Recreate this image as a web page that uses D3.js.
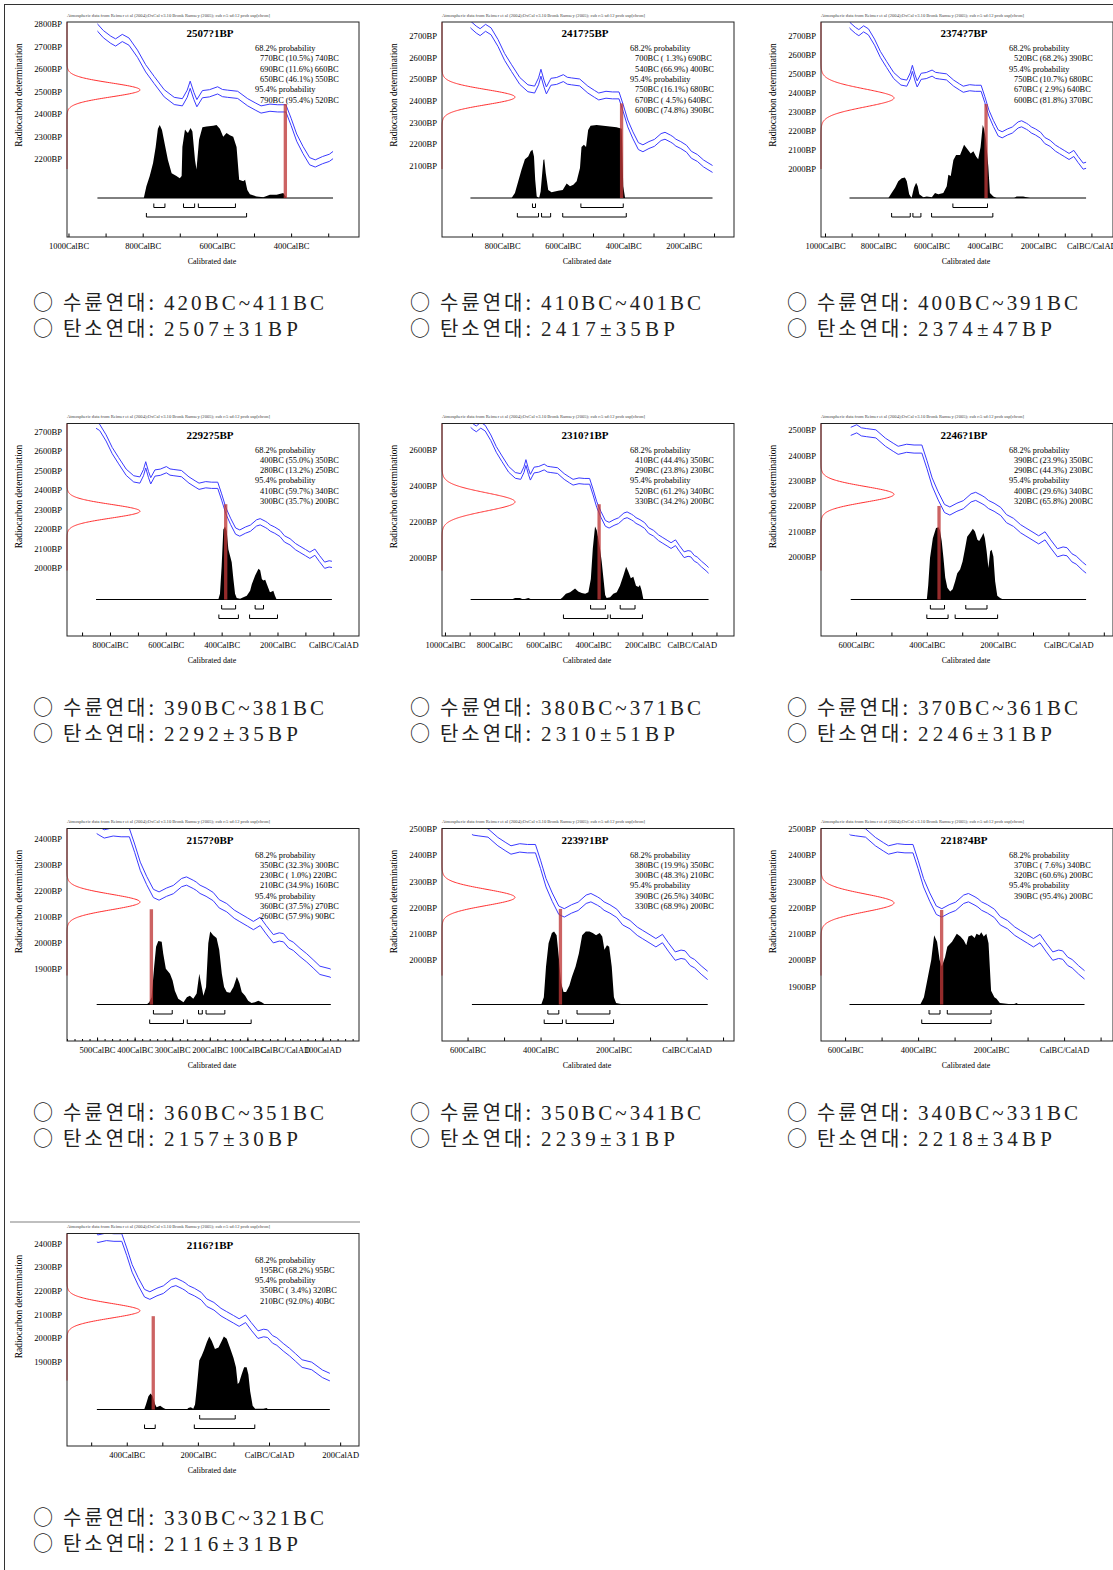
<!DOCTYPE html>
<html>
<head>
<meta charset="utf-8">
<script src="https://cdn.jsdelivr.net/npm/d3@7"></script>
<style>
  body { margin: 0; background: #fff; }
  svg text { font-family: "Liberation Serif", "Times New Roman", serif; }
</style>
</head>
<body>
<svg id="chart" width="1113" height="1570"></svg>
<script>
// calibration curve (IntCal04 centre line): [year (BC < 0), BP]
const calCurve = [
  [-925, 2790], [-906, 2755], [-886, 2730], [-873, 2718], [-855, 2738], [-837, 2722],
  [-814, 2668], [-792, 2603], [-769, 2551], [-742, 2492], [-715, 2458], [-693, 2452],
  [-680, 2490], [-672, 2530], [-662, 2480], [-654, 2448], [-639, 2488], [-620, 2492],
  [-598, 2505], [-585, 2493], [-571, 2490], [-544, 2485], [-517, 2452], [-495, 2432],
  [-481, 2420], [-457, 2428], [-436, 2425], [-414, 2425], [-400, 2365], [-385, 2295],
  [-368, 2240], [-350, 2190], [-335, 2180], [-315, 2195], [-297, 2205], [-275, 2232],
  [-262, 2238], [-244, 2225], [-236, 2218], [-226, 2206], [-210, 2195], [-191, 2178],
  [-175, 2150], [-155, 2135], [-135, 2110], [-120, 2097], [-100, 2080], [-84, 2066],
  [-66, 2082], [-50, 2050], [-31, 2015], [-15, 2022], [-4, 2019], [10, 1995],
  [22, 1986], [40, 1962], [58, 1941], [75, 1918], [93, 1893], [120, 1883],
  [150, 1850], [175, 1833]
];
const curveSigma = 16;

// measurements
const c14Mean = [2507, 2417, 2374, 2292, 2310, 2246, 2157, 2239, 2218, 2116];
const c14Sd = [31, 35, 47, 35, 51, 31, 30, 31, 34, 31];
const dendroFrom = [420, 410, 400, 390, 380, 370, 360, 350, 340, 330];
const dendroTo = [411, 401, 391, 381, 371, 361, 351, 341, 331, 321];
const barTopBP = [2444, 2388, 2342, 2328, 2297, 2200, 2129, 2195, 2191, 2093];

// calibrated ranges [fromBC, toBC, percent]
const prob68 = [
  [[770, 740, 10.5], [690, 660, 11.6], [650, 550, 46.1]],
  [[700, 690, 1.3], [540, 400, 66.9]],
  [[520, 390, 68.2]],
  [[400, 350, 55.0], [280, 250, 13.2]],
  [[410, 350, 44.4], [290, 230, 23.8]],
  [[390, 350, 23.9], [290, 230, 44.3]],
  [[350, 300, 32.3], [230, 220, 1.0], [210, 160, 34.9]],
  [[380, 350, 19.9], [300, 210, 48.3]],
  [[370, 340, 7.6], [320, 200, 60.6]],
  [[195, 95, 68.2]]
];
const prob95 = [
  [[790, 520, 95.4]],
  [[750, 680, 16.1], [670, 640, 4.5], [600, 390, 74.8]],
  [[750, 680, 10.7], [670, 640, 2.9], [600, 370, 81.8]],
  [[410, 340, 59.7], [300, 200, 35.7]],
  [[520, 340, 61.2], [330, 200, 34.2]],
  [[400, 340, 29.6], [320, 200, 65.8]],
  [[360, 270, 37.5], [260, 90, 57.9]],
  [[390, 340, 26.5], [330, 200, 68.9]],
  [[390, 200, 95.4]],
  [[350, 320, 3.4], [210, 40, 92.0]]
];

// calibrated probability distributions [year, relative density]
const dist1 = [[-797,0],[-790,.16],[-781,.30],[-772,.48],[-765,.70],[-759,.95],[-754,1],[-748,.93],[-741,.75],[-732,.52],[-722,.34],[-709,.30],[-700,.27],[-695,.30],[-693,.70],[-686,.94],[-682,.91],[-678,.89],[-671,.96],[-666,.91],[-659,.52],[-655,.39],[-648,.80],[-639,.97],[-628,.98],[-610,.99],[-601,1],[-592,.95],[-583,.84],[-574,.89],[-565,.86],[-556,.84],[-547,.70],[-540,.25],[-529,.23],[-524,.25],[-518,.11],[-511,.05],[-493,.02],[-475,.01],[-457,.045],[-439,.045],[-421,.07],[-412,0]];
const dist2 = [[-769,0],[-758,.07],[-747,.23],[-736,.39],[-725,.53],[-714,.57],[-706,.64],[-700,.66],[-695,.57],[-691,.25],[-686,.02],[-678,0],[-673,.09],[-664,.52],[-661,.53],[-656,.34],[-648,.11],[-637,.08],[-626,.09],[-615,.10],[-600,.11],[-587,.20],[-576,.16],[-565,.18],[-554,.23],[-543,.41],[-538,.70],[-530,.73],[-523,.70],[-516,.93],[-508,.99],[-488,1],[-466,.99],[-444,.98],[-422,.97],[-405,.95],[-400,.16],[-394,0]];
const dist3 = [[-762,0],[-750,.07],[-737,.14],[-725,.23],[-712,.27],[-700,.28],[-693,.23],[-684,.05],[-675,0],[-666,.14],[-658,.21],[-652,.16],[-646,.05],[-631,.01],[-618,.02],[-599,.01],[-587,.07],[-575,.05],[-556,.07],[-543,.16],[-537,.32],[-528,.30],[-518,.52],[-508,.59],[-493,.59],[-478,.73],[-468,.68],[-453,.61],[-443,.64],[-433,.57],[-425,.53],[-416,.70],[-408,1],[-403,.95],[-396,.80],[-387,.43],[-381,.07],[-368,.02],[-356,0],[-290,0],[-281,.02],[-256,.02],[-230,0]];
const dist4 = [[-412,0],[-406,.08],[-400,.46],[-394,.96],[-388,1],[-382,.94],[-376,.69],[-370,.60],[-364,.51],[-358,.28],[-352,.08],[-346,.02],[-334,.01],[-322,.03],[-310,.05],[-298,.12],[-292,.21],[-280,.33],[-268,.42],[-262,.40],[-256,.28],[-251,.26],[-244,.27],[-238,.21],[-227,.10],[-220,.11],[-215,.12],[-209,.05],[-203,0]];
const dist5 = [[-730,0],[-716,.02],[-696,.02],[-683,0],[-662,.02],[-649,0],[-534,0],[-523,.03],[-510,.08],[-493,.10],[-473,.15],[-460,.11],[-446,.09],[-432,.08],[-419,.10],[-409,.28],[-401,.70],[-392,1],[-385,.95],[-379,.84],[-372,.70],[-365,.52],[-358,.29],[-351,.06],[-345,.02],[-331,.03],[-318,.08],[-304,.10],[-291,.19],[-277,.33],[-266,.45],[-257,.38],[-247,.29],[-237,.31],[-226,.19],[-216,.17],[-210,.20],[-203,.12],[-196,0]];
const dist6 = [[-400,0],[-396,.20],[-391,.57],[-383,.84],[-374,.98],[-367,.99],[-363,.95],[-358,.80],[-353,.57],[-348,.30],[-342,.16],[-334,.11],[-327,.14],[-320,.25],[-314,.36],[-306,.41],[-299,.52],[-292,.70],[-286,.86],[-278,.91],[-270,.97],[-264,.93],[-257,.82],[-252,.80],[-245,.86],[-240,.91],[-236,.84],[-231,.66],[-226,.43],[-221,.66],[-217,.68],[-212,.59],[-207,.25],[-201,.05],[-193,.02],[-184,0]];
const dist7 = [[-368,0],[-361,.03],[-355,.10],[-348,.52],[-343,.79],[-337,.87],[-328,.86],[-324,.70],[-317,.49],[-306,.42],[-299,.33],[-293,.19],[-284,.08],[-270,.03],[-261,.10],[-253,.12],[-244,.08],[-235,.15],[-228,.42],[-223,.28],[-217,.12],[-210,.24],[-204,.84],[-199,1],[-191,.95],[-182,.91],[-175,.75],[-168,.42],[-162,.24],[-155,.17],[-146,.16],[-137,.24],[-128,.38],[-121,.29],[-115,.17],[-106,.12],[-98,.05],[-89,.02],[-80,.03],[-71,.05],[-62,.03],[-53,0]];
const dist8 = [[-398,0],[-391,.10],[-385,.52],[-378,.84],[-369,.98],[-363,1],[-356,.95],[-350,.65],[-344,.30],[-337,.17],[-330,.17],[-321,.26],[-314,.38],[-304,.52],[-295,.70],[-286,.95],[-276,1],[-266,1],[-257,.98],[-248,.95],[-238,.98],[-231,.93],[-225,.75],[-218,.81],[-212,.79],[-205,.52],[-199,.10],[-193,.02],[-173,0]];
const dist9 = [[-394,0],[-384,.10],[-373,.38],[-364,.61],[-356,.95],[-348,.86],[-341,.61],[-335,.52],[-326,.65],[-320,.79],[-307,.86],[-294,.97],[-284,.93],[-275,.88],[-268,.81],[-262,.93],[-253,.95],[-245,.91],[-240,.97],[-232,.95],[-227,.99],[-220,.93],[-213,.97],[-207,.84],[-200,.19],[-191,.10],[-185,.08],[-176,.02],[-140,0],[-130,.02],[-125,0]];
const dist10 = [[-351,0],[-346,.07],[-339,.18],[-333,.22],[-327,.18],[-320,.07],[-316,.03],[-306,.05],[-297,.02],[-288,0],[-231,0],[-227,.02],[-220,.03],[-213,.01],[-208,.07],[-203,.30],[-196,.67],[-189,.74],[-183,.81],[-175,.92],[-168,1],[-161,.94],[-152,.83],[-142,.85],[-133,.94],[-127,1],[-119,.97],[-110,.85],[-100,.71],[-93,.58],[-88,.35],[-84,.37],[-77,.48],[-70,.58],[-63,.58],[-58,.48],[-53,.25],[-46,.05],[-39,.01],[-16,.01],[-7,.02],[-2,0]];
const distributions = [dist1, dist2, dist3, dist4, dist5, dist6, dist7, dist8, dist9, dist10];

// plotted calendar range of curve and distribution
const calRange = [[-922,-287],[-905,-105],[-908,-20],[-850,-5],[-896,68],[-615,50],[-501,122],[-588,58],[-588,56],[-484,171]];

// axes
const xDomains = [[-1004,-217],[-999,-34],[-1015,81],[-954,92],[-1012,171],[-699,126],[-580,197],[-670,130],[-666,134],[-568,253]];
const yDomains = [[1853,2809],[1769,2765],[1642,2774],[1652,2742],[1561,2748],[1686,2526],[1620,2441],[1691,2502],[1691,2502],[1545,2442]];
const xLabels = [
  [-1000,-800,-600,-400], [-800,-600,-400,-200], [-1000,-800,-600,-400,-200,0],
  [-800,-600,-400,-200,0], [-1000,-800,-600,-400,-200,0], [-600,-400,-200,0],
  [-500,-400,-300,-200,-100,0,100], [-600,-400,-200,0], [-600,-400,-200,0], [-400,-200,0,200]
];
const yLabels = [
  [2800,2700,2600,2500,2400,2300,2200], [2700,2600,2500,2400,2300,2200,2100],
  [2700,2600,2500,2400,2300,2200,2100,2000], [2700,2600,2500,2400,2300,2200,2100,2000],
  [2600,2400,2200,2000], [2500,2400,2300,2200,2100,2000],
  [2400,2300,2200,2100,2000,1900], [2500,2400,2300,2200,2100,2000],
  [2500,2400,2300,2200,2100,2000,1900], [2400,2300,2200,2100,2000,1900]
];
const minorStep = [0,0,0,0,0,0,20,0,0,0];

// layout
const colLeft = [67, 442, 821], frameW = 292;
const rowTop = [22, 423.5, 828.5, 1233.5], frameH = [215, 212.5, 212.5, 212.5];
const textLeft = [33, 410, 787];
const distH = 73, gaussW = 73;
const header = "Atmospheric data from Reimer et al (2004);OxCal v3.10 Bronk Ramsey (2005); cub r:5 sd:12 prob usp[chron]";

const svg = d3.select("#chart");

// page rules
svg.append("line").attr("x1", 4).attr("x2", 1113).attr("y1", 4.5).attr("y2", 4.5).attr("stroke", "#333");
svg.append("line").attr("x1", 4.5).attr("x2", 4.5).attr("y1", 4).attr("y2", 1570).attr("stroke", "#333");
svg.append("line").attr("x1", 10).attr("x2", 360).attr("y1", 1222).attr("y2", 1222).attr("stroke", "#aaa").attr("stroke-width", 1.5);

const yearLabel = (v) => (v === 0 ? "CalBC/CalAD" : v < 0 ? `${-v}CalBC` : `${v}CalAD`);
const pct = (p) => (p < 10 ? " " + p.toFixed(1) : p.toFixed(1));

d3.range(10).forEach((i) => {
  const col = i % 3, row = Math.floor(i / 3);
  const L = colLeft[col], R = L + frameW;
  const T = rowTop[row], B = T + frameH[row];
  const base = T + 176;

  const x = d3.scaleLinear().domain(xDomains[i]).range([L, R]);
  const y = d3.scaleLinear().domain(yDomains[i]).range([B, T]);

  const g = svg.append("g");

  // clip for the curve
  const [r0, r1] = calRange[i];
  g.append("clipPath").attr("id", `clip${i}`)
    .append("rect")
    .attr("x", Math.max(L, x(r0))).attr("y", T)
    .attr("width", Math.min(R, x(r1)) - Math.max(L, x(r0))).attr("height", B - T);

  // header
  g.append("text").attr("x", L).attr("y", T - 5.5)
    .attr("font-size", 4.6).attr("fill", "#444")
    .attr("textLength", 203).attr("lengthAdjust", "spacingAndGlyphs")
    .text(header);

  // calibration curve
  [curveSigma, -curveSigma].forEach((off) => {
    g.append("path")
      .attr("clip-path", `url(#clip${i})`)
      .attr("d", d3.line().x((d) => x(d[0])).y((d) => y(d[1] + off))(calCurve))
      .attr("fill", "none").attr("stroke", "#3a3aff").attr("stroke-width", 1);
  });

  // radiocarbon measurement (normal curve on the y axis)
  const bpLo = y.invert(T + 147), bpHi = y.invert(T);
  const gauss = d3.range(bpLo, bpHi, 1.5).map((bp) => [bp, Math.exp(-0.5 * ((bp - c14Mean[i]) / c14Sd[i]) ** 2)]);
  g.append("path")
    .attr("d", d3.line().x((d) => L + gaussW * d[1]).y((d) => y(d[0]))(gauss))
    .attr("fill", "none").attr("stroke", "#ff3030").attr("stroke-width", 1);

  // calibrated distribution
  g.append("path")
    .attr("d", d3.area().x((d) => x(d[0])).y0(base).y1((d) => base - distH * d[1])(distributions[i]))
    .attr("fill", "#000");
  g.append("line")
    .attr("x1", x(r0)).attr("x2", Math.min(R, x(r1)))
    .attr("y1", base).attr("y2", base)
    .attr("stroke", "#000");

  // dendro date bar
  const bx0 = x(-dendroFrom[i]), bx1 = x(-dendroTo[i]);
  const bw = Math.max(3.3, bx1 - bx0);
  g.append("rect")
    .attr("x", (bx0 + bx1) / 2 - bw / 2).attr("width", bw)
    .attr("y", y(barTopBP[i])).attr("height", base - y(barTopBP[i]))
    .attr("fill", "rgb(190,55,55)").attr("opacity", 0.78);

  // ranges
  [[prob68[i], base + 9.5], [prob95[i], base + 19]].forEach(([ranges, by]) => {
    g.selectAll(null).data(ranges).join("path")
      .attr("d", (d) => `M${x(-d[0])},${by - 4}V${by}H${x(-d[1])}V${by - 4}`)
      .attr("fill", "none").attr("stroke", "#000").attr("stroke-width", 1);
  });

  // x ticks
  const d0 = xDomains[i][0], d1 = xDomains[i][1];
  const drawTicks = (step, size) => {
    const ax = g.append("g").attr("transform", `translate(0,${B})`)
      .call(d3.axisBottom(x).tickValues(d3.range(Math.ceil(d0 / step) * step, d1, step))
        .tickSizeInner(-size).tickSizeOuter(0).tickFormat(""));
    ax.select(".domain").remove();
    ax.selectAll("line").attr("stroke", "#000");
  };
  if (minorStep[i]) drawTicks(minorStep[i], 2);
  drawTicks(100, 3.5);

  // x labels
  const xl = g.append("g").attr("transform", `translate(0,${B})`)
    .call(d3.axisBottom(x).tickValues(xLabels[i]).tickSize(0).tickPadding(6).tickFormat(yearLabel));
  xl.select(".domain").remove();
  xl.selectAll("text").attr("font-size", 8.5).attr("fill", "#000");

  // y labels
  const yl = g.append("g").attr("transform", `translate(${L},0)`)
    .call(d3.axisLeft(y).tickValues(yLabels[i]).tickSize(0).tickPadding(5).tickFormat((d) => `${d}BP`));
  yl.select(".domain").remove();
  yl.selectAll("text").attr("font-size", 8.6).attr("fill", "#000");

  // frame
  g.append("rect").attr("x", L).attr("y", T).attr("width", frameW).attr("height", B - T)
    .attr("fill", "none").attr("stroke", "#222").attr("stroke-width", 1);

  // axis titles
  g.append("text").attr("x", (L + R) / 2 - 1).attr("y", B + 27)
    .attr("text-anchor", "middle").attr("font-size", 8).text("Calibrated date");
  g.append("text").attr("transform", `translate(${L - 47},${T + 73}) rotate(-90)`)
    .attr("text-anchor", "middle").attr("dominant-baseline", "middle")
    .attr("font-size", 9.5).text("Radiocarbon determination");

  // title
  g.append("text").attr("x", (L + R) / 2 - 3).attr("y", T + 15)
    .attr("text-anchor", "middle").attr("font-size", 11).attr("font-weight", "bold")
    .text(`${c14Mean[i]}?${String(c14Sd[i]).slice(1)}BP`);

  // probability text
  const lines = [{ t: "68.2% probability", ind: 0 }]
    .concat(prob68[i].map((d) => ({ t: `${d[0]}BC (${pct(d[2])}%) ${d[1]}BC`, ind: 1 })))
    .concat([{ t: "95.4% probability", ind: 0 }])
    .concat(prob95[i].map((d) => ({ t: `${d[0]}BC (${pct(d[2])}%) ${d[1]}BC`, ind: 1 })));
  g.selectAll(null).data(lines).join("text")
    .attr("x", (d) => R - 104 + d.ind * 5)
    .attr("y", (d, k) => T + 29 + k * 10.3)
    .attr("font-size", 8.4)
    .style("white-space", "pre")
    .text((d) => d.t);

  // Korean caption: circle, label, value
  const tx = textLeft[col];
  const captions = [
    ["수륜연대:", `${dendroFrom[i]}BC~${dendroTo[i]}BC`, 160],
    ["탄소연대:", `${c14Mean[i]}±${c14Sd[i]}BP`, 134]
  ];
  captions.forEach(([label, value, valueW], k) => {
    const ty = 310 + 405 * row + k * 25.5;
    g.append("text").attr("x", tx).attr("y", ty)
      .style("font-family", "'Noto Sans CJK KR'").attr("font-size", 20).attr("fill", "#222")
      .text("○");
    g.append("text").attr("x", tx + 30).attr("y", ty)
      .style("font-family", "'Noto Sans CJK KR'").attr("font-size", 20).attr("fill", "#222")
      .attr("textLength", 91).attr("lengthAdjust", "spacing")
      .text(label);
    g.append("text").attr("x", tx + 131).attr("y", ty)
      .attr("font-size", 21).attr("fill", "#222")
      .attr("textLength", valueW).attr("lengthAdjust", "spacing")
      .text(value);
  });
});
</script>
</body>
</html>
